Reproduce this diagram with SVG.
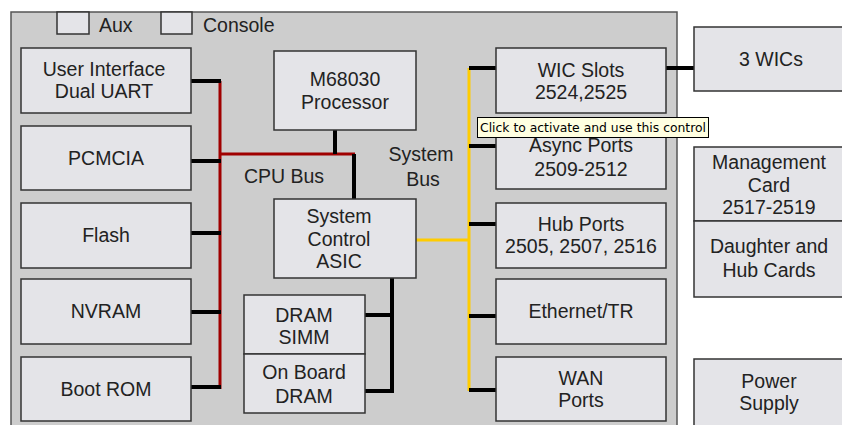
<svg xmlns="http://www.w3.org/2000/svg" width="842" height="425" viewBox="0 0 842 425">
<style>
.box{fill:#e4e4e8;stroke:#333;stroke-width:1.5}
.t{font-family:"Liberation Sans",Arial,sans-serif;font-size:19.5px;fill:#222;text-anchor:middle}
.tl{font-family:"Liberation Sans",Arial,sans-serif;font-size:19.5px;fill:#222}
.blk{stroke:#000;stroke-width:4;fill:none}
.red{stroke:#a00000;stroke-width:3;fill:none}
.yel{stroke:#ffcc00;stroke-width:3;fill:none}
</style>
<rect x="0" y="0" width="842" height="425" fill="#ffffff"/>
<rect id="chassis" x="11" y="12" width="666" height="430" fill="#cdcdcd" stroke="#555" stroke-width="1.5"/>
<g id="aux"><rect x="57" y="12" width="32" height="22" class="box"/><text x="99" y="32" class="tl">Aux</text></g>
<g id="console"><rect x="161" y="12" width="31" height="22" class="box"/><text x="203" y="32" class="tl">Console</text></g>
<g id="connectors">
<path class="red" d="M220 81V389M220 154H355"/>
<path class="blk" d="M191 81H221M191 161H221M191 233H221M191 312H221M191 387H221"/>
<path class="blk" d="M335 130V154M354 154V199"/>
<path class="blk" d="M392 278V393M365 315H392M365 391H394"/>
<path class="yel" d="M416 240H469M469 68V391"/>
<path class="blk" d="M469 68H496M469 146H496M469 224H496M469 316H496M469 390H496M666 68H694"/>
</g>
<g id="user-interface"><rect x="21" y="48" width="170" height="65" class="box"/><text x="104" y="76" class="t">User Interface</text><text x="104" y="98" class="t">Dual UART</text></g>
<g id="pcmcia"><rect x="21" y="126" width="170" height="64" class="box"/><text x="106" y="165" class="t">PCMCIA</text></g>
<g id="flash"><rect x="21" y="203" width="170" height="65" class="box"/><text x="106" y="242" class="t">Flash</text></g>
<g id="nvram"><rect x="21" y="279" width="170" height="65" class="box"/><text x="106" y="318" class="t">NVRAM</text></g>
<g id="boot-rom"><rect x="21" y="357" width="170" height="64" class="box"/><text x="106" y="396" class="t">Boot ROM</text></g>
<g id="processor"><rect x="274" y="51" width="142" height="79" class="box"/><text x="345" y="86" class="t">M68030</text><text x="345" y="109" class="t">Processor</text></g>
<g id="cpu-bus-label"><text x="284" y="183" class="t">CPU Bus</text></g>
<g id="system-bus-label"><text x="421" y="161" class="t">System</text><text x="423" y="186" class="t">Bus</text></g>
<g id="asic"><rect x="274" y="199" width="142" height="79" class="box"/><text x="339" y="223" class="t">System</text><text x="339" y="246" class="t">Control</text><text x="339" y="268" class="t">ASIC</text></g>
<g id="dram-simm"><rect x="244" y="295" width="121" height="59" class="box"/><text x="304" y="322" class="t">DRAM</text><text x="304" y="344" class="t">SIMM</text></g>
<g id="onboard-dram"><rect x="244" y="354" width="121" height="59" class="box"/><text x="304" y="379" class="t">On Board</text><text x="304" y="403" class="t">DRAM</text></g>
<g id="wic-slots"><rect x="496" y="48" width="170" height="65" class="box"/><text x="581" y="77" class="t">WIC Slots</text><text x="581" y="99" class="t">2524,2525</text></g>
<g id="async-ports"><rect x="496" y="126" width="170" height="63" class="box"/><text x="581" y="152" class="t">Async Ports</text><text x="581" y="176" class="t">2509-2512</text></g>
<g id="hub-ports"><rect x="496" y="203" width="170" height="65" class="box"/><text x="581" y="231" class="t">Hub Ports</text><text x="581" y="253" class="t">2505, 2507, 2516</text></g>
<g id="ethernet"><rect x="496" y="279" width="170" height="65" class="box"/><text x="581" y="318" class="t">Ethernet/TR</text></g>
<g id="wan-ports"><rect x="496" y="357" width="170" height="64" class="box"/><text x="581" y="385" class="t">WAN</text><text x="581" y="407" class="t">Ports</text></g>
<g id="wics"><rect x="694" y="27" width="160" height="64" class="box"/><text x="771" y="66" class="t">3 WICs</text></g>
<g id="management-card"><rect x="694" y="147" width="160" height="74" class="box"/><text x="769" y="169" class="t">Management</text><text x="769" y="192" class="t">Card</text><text x="769" y="214" class="t">2517-2519</text></g>
<g id="daughter-cards"><rect x="694" y="221" width="160" height="76" class="box"/><text x="769" y="253" class="t">Daughter and</text><text x="769" y="277" class="t">Hub Cards</text></g>
<g id="power-supply"><rect x="694" y="359" width="160" height="80" class="box"/><text x="769" y="388" class="t">Power</text><text x="769" y="410" class="t">Supply</text></g>
<g id="tooltip"><rect x="477.5" y="117.5" width="231" height="20" fill="#ffffe1" stroke="#000" stroke-width="1"/><text x="480" y="132" font-family="'DejaVu Sans',Tahoma,sans-serif" font-size="12" fill="#000" textLength="226" lengthAdjust="spacingAndGlyphs">Click to activate and use this control</text></g>
</svg>
